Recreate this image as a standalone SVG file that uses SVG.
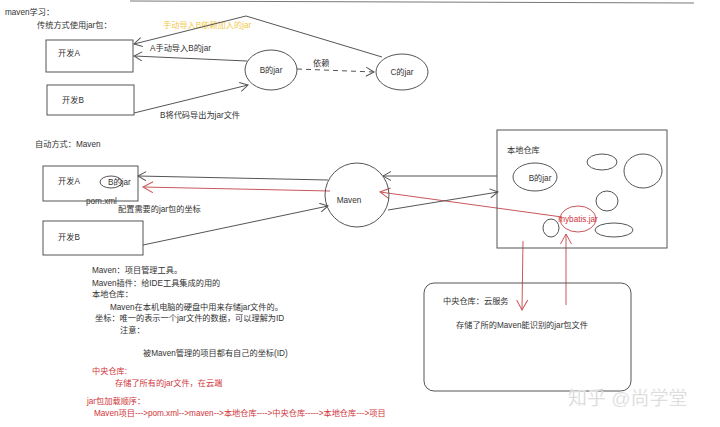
<svg xmlns="http://www.w3.org/2000/svg" width="720" height="427" viewBox="0 0 720 427">
<style>
text{font-family:"Liberation Sans","Noto Sans CJK SC",sans-serif;font-size:8.2px;fill:#333}
.red{fill:#d0353a}
.yel{fill:#f2c94c}
.box{fill:none;stroke:#555;stroke-width:1}
.ln{fill:none;stroke:#555;stroke-width:1}
.rl{fill:none;stroke:#c9575c;stroke-width:1}
.wm{font-size:19px;fill:#cfcfcf;stroke:#fff;stroke-width:0.4}
</style>
<defs>
<marker id="ah" markerWidth="10" markerHeight="10" refX="9" refY="5" orient="auto" markerUnits="userSpaceOnUse">
<path d="M1,0.5 L9,5 L1,9.5" fill="none" stroke="#555" stroke-width="1"/>
</marker>
<marker id="ahr" markerWidth="12" markerHeight="12" refX="11" refY="6" orient="auto" markerUnits="userSpaceOnUse">
<path d="M1,0.5 L11,6 L1,11.5" fill="none" stroke="#c9575c" stroke-width="1"/>
</marker>
</defs>
<rect width="720" height="427" fill="#fff"/>
<line x1="130" y1="1" x2="694" y2="3" stroke="#777" stroke-width="1"/>
<text x="5" y="15">maven学习：</text>
<text x="37" y="28">传统方式使用jar包：</text>
<text x="163" y="28" class="yel">手动导入B依赖加入的jar</text>
<text x="150" y="51">A手动导入B的jar</text>
<text x="160" y="118">B将代码导出为jar文件</text>
<text x="313" y="66">依赖</text>
<text x="35" y="147">自动方式：Maven</text>
<text x="86" y="204">pom.xml</text>
<text x="118" y="212">配置需要的jar包的坐标</text>

<g id="connectors">
<path class="ln" d="M247,61 L134,56" marker-end="url(#ah)"/>
<path class="ln" d="M382,57 L246,16 L134,44" marker-end="url(#ah)"/>
<path class="ln" d="M134,113 L248,85" marker-end="url(#ah)"/>
<path class="ln" d="M297,69 L374,72" stroke-dasharray="5,4" marker-end="url(#ah)"/>
<path class="ln" d="M328,180 L138,176" marker-end="url(#ah)"/>
<path class="rl" d="M330,191 L143,187" marker-end="url(#ahr)"/>
<path class="rl" d="M562,217 L380,192" marker-end="url(#ahr)"/>
<path class="ln" d="M497,176 L383,176" marker-end="url(#ah)"/>
<path class="ln" d="M388,210 L498,192" marker-end="url(#ah)"/>
<path class="ln" d="M143,245 L328,206" marker-end="url(#ah)"/>
<path class="rl" d="M523,241 L522,310" marker-end="url(#ahr)"/>
<path class="rl" d="M566,305 L566,234" marker-end="url(#ahr)"/>
</g>

<g id="devA1"><rect class="box" x="46" y="40" width="87" height="32"/><text x="58" y="56">开发A</text></g>
<g id="devB1"><rect class="box" x="47" y="85" width="87" height="30"/><text x="62" y="103">开发B</text></g>
<g id="bjar1"><ellipse class="box" cx="271" cy="70" rx="26" ry="20"/><text x="271" y="73" text-anchor="middle">B的jar</text></g>
<g id="cjar"><ellipse class="box" cx="402" cy="72" rx="26" ry="18"/><text x="402" y="75" text-anchor="middle">C的jar</text></g>

<g id="devA2"><rect class="box" x="43" y="166" width="95" height="35"/><text x="58" y="184">开发A</text><ellipse class="box" cx="111" cy="182" rx="11" ry="6"/><text x="108" y="185">B的jar</text></g>
<g id="devB2"><rect class="box" x="43" y="221" width="100" height="34"/><text x="58" y="240">开发B</text></g>
<g id="maven"><circle class="box" cx="357" cy="195" r="32"/><text x="349" y="203" text-anchor="middle">Maven</text></g>

<g id="localRepo">
<rect class="box" x="497" y="130" width="170" height="118"/>
<text x="507" y="153">本地仓库</text>
<ellipse class="box" cx="535" cy="177" rx="22" ry="14"/><text x="540" y="181" text-anchor="middle">B的jar</text>
<ellipse class="box" cx="602" cy="162" rx="15" ry="8"/>
<ellipse class="box" cx="643" cy="171" rx="19" ry="17"/>
<ellipse class="box" cx="607" cy="201" rx="11" ry="10"/>
<ellipse class="box" cx="551" cy="228" rx="8" ry="9"/>
<ellipse class="box" cx="614" cy="230" rx="19" ry="7"/>
<ellipse cx="578" cy="219" rx="18" ry="13" fill="none" stroke="#c9575c"/>
<text x="578" y="222" text-anchor="middle" class="red">mybatis.jar</text>
</g>

<g id="centralRepo">
<rect class="box" x="424" y="283" width="207" height="108" rx="10"/>
<text x="443" y="304">中央仓库：云服务</text>
<text x="456" y="328">存储了所的Maven能识别的jar包文件</text>
</g>

<g id="notes">
<text x="92" y="273">Maven：项目管理工具。</text>
<text x="92" y="286">Maven插件：给IDE工具集成的用的</text>
<text x="92" y="297">本地仓库：</text>
<text x="110" y="310">Maven在本机电脑的硬盘中用来存储jar文件的。</text>
<text x="95" y="321">坐标：唯一的表示一个jar文件的数据，可以理解为ID</text>
<text x="120" y="333">注意：</text>
<text x="143" y="356">被Maven管理的项目都有自己的坐标(ID)</text>
<text x="92" y="374" class="red">中央仓库:</text>
<text x="115" y="386" class="red">存储了所有的jar文件，在云端</text>
<text x="87" y="404" class="red">jar包加载顺序：</text>
<text x="94" y="416" class="red">Maven项目---&gt;pom.xml--&gt;maven--&gt;本地仓库----&gt;中央仓库-----&gt;本地仓库---&gt;项目</text>
</g>
<text x="568" y="405" class="wm">知乎 @尚学堂</text>
</svg>
